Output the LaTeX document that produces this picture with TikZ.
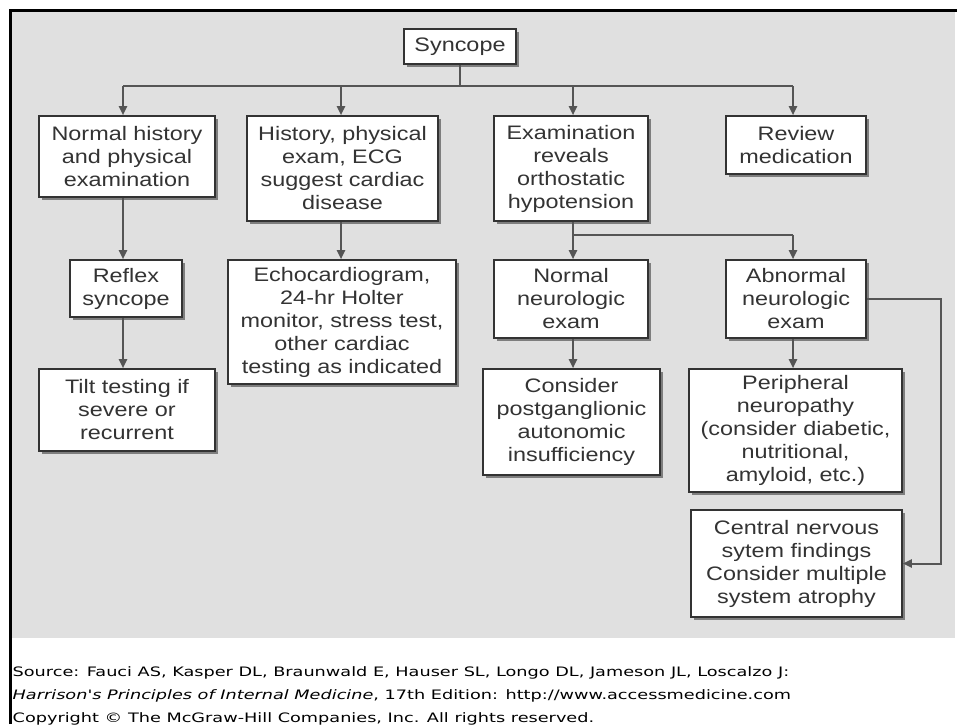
\documentclass[tikz,border=0pt]{standalone}
\usepackage{fontspec}
\setmainfont{Liberation Sans}[FakeStretch=1.2]
\newfontfamily\footfont{DejaVu Sans}[FakeStretch=1.36]
\usetikzlibrary{arrows.meta,shadows}
\definecolor{bgc}{HTML}{E0E0E0}
\definecolor{ink}{HTML}{333333}
\definecolor{lnc}{HTML}{555555}
\begin{document}
\begin{tikzpicture}[x=1pt,y=-1pt,
  box/.style={draw=ink, fill=white, line width=1.6pt, text=ink, align=center, inner sep=0pt,
    font=\fontsize{19.5}{23}\selectfont,
    drop shadow={shadow xshift=2.5pt, shadow yshift=-2.5pt, fill=black!60, opacity=0.8}},
  conn/.style={draw=lnc, line width=2pt},
  arr/.style={conn, -{Triangle[length=9pt,width=8pt]}},
  foot/.style={anchor=west, inner sep=0pt, text=black, font=\footfont\fontsize{13}{15}\selectfont}
]
\useasboundingbox (0,0) rectangle (957,724);
\fill[white] (0,0) rectangle (957,724);
\fill[bgc] (12,12) rectangle (955,638);
\draw[black, line width=3pt] (10.5,724) -- (10.5,10.5) -- (957,10.5);

\node[box, minimum width=112pt, minimum height=35pt] (syn) at (460,46.5) {Syncope};
\node[box, minimum width=176pt, minimum height=81pt] (b1) at (127,156.5) {Normal history\\and physical\\examination};
\node[box, minimum width=191pt, minimum height=105pt] (b2) at (342.5,168.5) {History, physical\\exam, ECG\\suggest cardiac\\disease};
\node[box, minimum width=154pt, minimum height=105pt] (b3) at (571,168.5) {Examination\\reveals\\orthostatic\\hypotension};
\node[box, minimum width=140pt, minimum height=58pt] (b4) at (796,145) {Review\\medication};
\node[box, minimum width=112pt, minimum height=57pt] (rf) at (126,288.5) {Reflex\\syncope};
\node[box, minimum width=176pt, minimum height=82pt] (tilt) at (127,410) {Tilt testing if\\severe or\\recurrent};
\node[box, minimum width=228pt, minimum height=124pt] (echo) at (342,322) {Echocardiogram,\\24-hr Holter\\monitor, stress test,\\other cardiac\\testing as indicated};
\node[box, minimum width=154pt, minimum height=78pt] (nne) at (571,299) {Normal\\neurologic\\exam};
\node[box, minimum width=140pt, minimum height=78pt] (ane) at (796,299) {Abnormal\\neurologic\\exam};
\node[box, minimum width=177pt, minimum height=106pt] (post) at (571.5,422) {Consider\\postganglionic\\autonomic\\insufficiency};
\node[box, minimum width=213pt, minimum height=123pt] (peri) at (795.5,430.5) {Peripheral\\neuropathy\\(consider diabetic,\\nutritional,\\amyloid, etc.)};
\node[box, minimum width=211pt, minimum height=107pt] (cns) at (796.5,563.5) {Central nervous\\sytem findings\\Consider multiple\\system atrophy};

\coordinate (j0) at (460,86);
\coordinate (jL) at (123,86);
\coordinate (j2) at (341,86);
\coordinate (j3) at (573,86);
\coordinate (jR) at (793,86);
\draw[conn] (syn.south) -- (j0);
\draw[conn] (jL) -- (jR);
\draw[arr] (jL) -- (jL |- b1.north);
\draw[arr] (j2) -- (j2 |- b2.north);
\draw[arr] (j3) -- (j3 |- b3.north);
\draw[arr] (jR) -- (jR |- b4.north);

\draw[arr] (jL |- b1.south) -- (jL |- rf.north);
\draw[arr] (jL |- rf.south) -- (jL |- tilt.north);
\draw[arr] (j2 |- b2.south) -- (j2 |- echo.north);

\coordinate (k0) at (573,235);
\coordinate (k1) at (793,235);
\draw[conn] (k0 |- b3.south) -- (k0) -- (k1);
\draw[arr] (k0) -- (k0 |- nne.north);
\draw[arr] (k1) -- (k1 |- ane.north);
\draw[arr] (k0 |- nne.south) -- (k0 |- post.north);
\draw[arr] (k1 |- ane.south) -- (k1 |- peri.north);

\coordinate (s1) at (941,296);
\draw[arr] (ane.east) -- (ane.east -| s1) -- (s1 |- cns.east) -- (cns.east);

\node[foot] (src1) at (12.5,673) {Source: Fauci AS, Kasper DL, Braunwald E, Hauser SL, Longo DL, Jameson JL, Loscalzo J:};
\node[foot] (src2) at (12.5,696) {\textit{Harrison's Principles of Internal Medicine}, 17th Edition: http://www.accessmedicine.com};
\node[foot] (src3) at (12.5,719) {Copyright \textcopyright{} The McGraw-Hill Companies, Inc. All rights reserved.};
\end{tikzpicture}
\end{document}
